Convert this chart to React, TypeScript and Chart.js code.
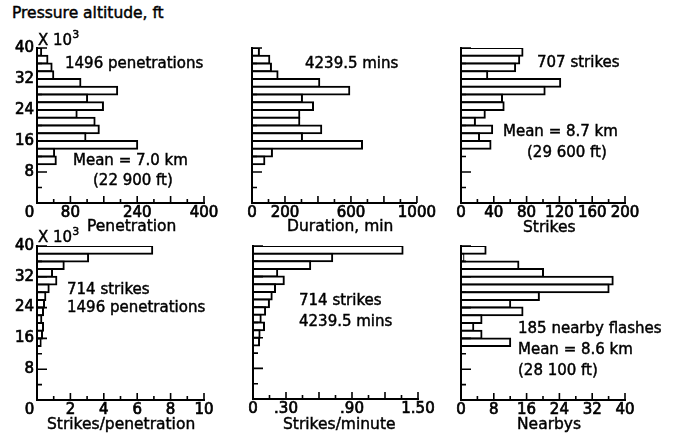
import React, { useEffect, useRef } from 'react';
import { Chart, registerables } from 'chart.js';

Chart.register(...registerables);

// ---------- data ----------
// altitude bin centres (x 10^3 ft), 2000 ft bins from 40 000 ft down
const altitudeBins15 = [39, 37, 35, 33, 31, 29, 27, 25, 23, 21, 19, 17, 15, 13, 11];
const altitudeBins13 = [39, 37, 35, 33, 31, 29, 27, 25, 23, 21, 19, 17, 15];
const altitudeTickLabels = [8, 16, 24, 32, 40];

const penetrations = [10, 25, 35, 39, 104, 192, 120, 158, 95, 138, 148, 116, 240, 41, 45];
const durationMin = [42, 105, 115, 155, 408, 590, 303, 370, 287, 287, 420, 303, 667, 121, 75];
const strikes = [75, 71, 66, 32, 121, 102, 50, 52, 29, 17, 38, 22, 36];
const strikesPerPenetration = [6.9, 3.06, 1.6, 0.9, 1.16, 0.7, 0.5, 0.42, 0.36, 0.26, 0.36, 0.3, 0.22];
const strikesPerMinute = [1.36, 0.72, 0.52, 0.22, 0.28, 0.2, 0.17, 0.145, 0.11, 0.07, 0.1, 0.06, 0.055];
const nearbys = [6, 0.6, 14, 20, 37, 36, 19, 12, 15, 5, 3, 5, 12];

const penetrationTickValues = [0, 80, 240, 400];
const penetrationTickText = ['0\u2003', '80', '240', '400'];
const durationTickValues = [0, 200, 600, 1000];
const durationTickText = ['0', '200', '600', '1000'];
const strikesTickValues = [0, 40, 80, 120, 160, 200];
const strikesTickText = ['0', '40', '80', '120', '160', '200'];
const perPenTickValues = [0, 2, 4, 6, 8, 10];
const perPenTickText = ['0\u2003', '2', '4', '6', '8', '10'];
const perMinTickValues = [0, 0.3, 0.9, 1.5];
const perMinTickText = ['0', '.30', '.90', '1.50'];
const nearbyTickValues = [0, 8, 16, 24, 32, 40];
const nearbyTickText = ['0', '8', '16', '24', '32', '40'];

// ---------- layout ----------
const FONT = "'DejaVu Sans', sans-serif";
const LEFT_W = 40;
const PAD_T = 12;
const PAD_R = 22;
const BOTTOM_H = 26;
const STROKE = '0.45px #000';

type Area = { left: number; top: number; right: number; bottom: number };
type PanelCfg = {
  bins: number[];
  values: number[];
  xMax: number;
  xStep: number;
  xMajor: number;
  tickValues: number[];
  tickText: string[];
  showY: boolean;
  area: Area;
};

const panels: PanelCfg[] = [
  { bins: altitudeBins15, values: penetrations, xMax: 400, xStep: 40, xMajor: 80, tickValues: penetrationTickValues, tickText: penetrationTickText, showY: true, area: { left: 37, top: 48, right: 204, bottom: 203 } },
  { bins: altitudeBins15, values: durationMin, xMax: 1000, xStep: 100, xMajor: 200, tickValues: durationTickValues, tickText: durationTickText, showY: false, area: { left: 252, top: 48, right: 417, bottom: 203 } },
  { bins: altitudeBins13, values: strikes, xMax: 200, xStep: 20, xMajor: 40, tickValues: strikesTickValues, tickText: strikesTickText, showY: false, area: { left: 461, top: 48, right: 625, bottom: 203 } },
  { bins: altitudeBins13, values: strikesPerPenetration, xMax: 10, xStep: 1, xMajor: 2, tickValues: perPenTickValues, tickText: perPenTickText, showY: true, area: { left: 37, top: 246, right: 204, bottom: 400 } },
  { bins: altitudeBins13, values: strikesPerMinute, xMax: 1.5, xStep: 0.15, xMajor: 0.3, tickValues: perMinTickValues, tickText: perMinTickText, showY: false, area: { left: 253, top: 246, right: 418, bottom: 399 } },
  { bins: altitudeBins13, values: nearbys, xMax: 40, xStep: 4, xMajor: 8, tickValues: nearbyTickValues, tickText: nearbyTickText, showY: false, area: { left: 461, top: 246, right: 625, bottom: 400 } },
];

type Note = { text: string; left: number; top: number; size?: number };
const notes: Note[] = [
  { text: 'Pressure altitude, ft', left: 12, top: 6, size: 15.5 },
  { text: '1496 penetrations', left: 65, top: 56 },
  { text: 'Mean = 7.0 km', left: 73, top: 153 },
  { text: '(22 900 ft)', left: 93, top: 173 },
  { text: '4239.5 mins', left: 305, top: 56 },
  { text: '707 strikes', left: 537, top: 55 },
  { text: 'Mean = 8.7 km', left: 503, top: 124 },
  { text: '(29 600 ft)', left: 527, top: 145 },
  { text: '714 strikes', left: 67, top: 282 },
  { text: '1496 penetrations', left: 67, top: 300 },
  { text: '714 strikes', left: 299, top: 293 },
  { text: '4239.5 mins', left: 299, top: 314 },
  { text: '185 nearby flashes', left: 518, top: 321 },
  { text: 'Mean = 8.6 km', left: 518, top: 342 },
  { text: '(28 100 ft)', left: 518, top: 363 },
  { text: 'Penetration', left: 87, top: 219, size: 15.5 },
  { text: 'Duration, min', left: 287, top: 219, size: 15.5 },
  { text: 'Strikes', left: 523, top: 220, size: 15.5 },
  { text: 'Strikes/penetration', left: 47, top: 417, size: 15.5 },
  { text: 'Strikes/minute', left: 283, top: 417, size: 15.5 },
  { text: 'Nearbys', left: 517, top: 417, size: 15.5 },
];
const exponentNotes = [
  { left: 38, top: 33 },
  { left: 38, top: 230 },
];

const isMultiple = (v: number, step: number) => {
  const r = v / step;
  return Math.abs(r - Math.round(r)) < 1e-6;
};

const innerTicks = {
  id: 'innerTicks',
  afterDraw(chart: any, _args: any, opts: any) {
    const { ctx, chartArea } = chart;
    const xs = chart.scales.x;
    const ys = chart.scales.y;
    ctx.save();
    ctx.strokeStyle = '#000';
    ctx.lineWidth = 1.6;
    ctx.beginPath();
    for (const t of xs.ticks) {
      if (Math.abs(t.value) < 1e-9) continue;
      const px = xs.getPixelForValue(t.value);
      const len = isMultiple(t.value, opts.xMajor) ? 7 : 4;
      ctx.moveTo(px, chartArea.bottom);
      ctx.lineTo(px, chartArea.bottom - len);
    }
    for (const t of ys.ticks) {
      if (Math.abs(t.value) < 1e-9) continue;
      const py = ys.getPixelForValue(t.value);
      const len = isMultiple(t.value, 8) ? 10 : 5;
      ctx.moveTo(chartArea.left, py);
      ctx.lineTo(chartArea.left + len, py);
    }
    ctx.stroke();
    ctx.restore();
  },
};

function Panel({ cfg }: { cfg: PanelCfg }) {
  const ref = useRef<HTMLCanvasElement | null>(null);
  const W = cfg.area.right - cfg.area.left + LEFT_W + PAD_R;
  const H = cfg.area.bottom - cfg.area.top + PAD_T + BOTTOM_H;

  useEffect(() => {
    if (!ref.current) return;
    const tickFont = { family: FONT, size: 15, lineHeight: 1 };
    const chart = new Chart(ref.current, {
      type: 'bar',
      data: {
        datasets: [
          {
            data: cfg.bins.map((b, i) => ({ x: cfg.values[i], y: b })),
            backgroundColor: '#fff',
            borderColor: '#000',
            borderWidth: 2,
            borderSkipped: 'start',
            inflateAmount: 1,
            barPercentage: 1,
            categoryPercentage: 1,
          } as any,
        ],
      },
      options: {
        indexAxis: 'y',
        responsive: false,
        animation: false,
        devicePixelRatio: 1,
        events: [],
        layout: { padding: { left: 0, top: PAD_T, right: PAD_R, bottom: 0 } },
        plugins: {
          legend: { display: false },
          tooltip: { enabled: false },
          innerTicks: { xMajor: cfg.xMajor },
        } as any,
        scales: {
          x: {
            type: 'linear',
            position: 'bottom',
            min: 0,
            max: cfg.xMax,
            grid: { display: false, drawTicks: false },
            border: { display: true, color: '#000', width: 2, z: 1 },
            ticks: {
              stepSize: cfg.xStep,
              autoSkip: false,
              maxRotation: 0,
              minRotation: 0,
              padding: 3,
              color: '#000',
              textStrokeColor: '#000',
              textStrokeWidth: 0.7,
              font: tickFont,
              callback: (v: any) => {
                const i = cfg.tickValues.findIndex((t) => Math.abs(t - Number(v)) < 1e-6);
                return i >= 0 ? cfg.tickText[i] : '';
              },
            },
            afterFit: (s: any) => {
              s.height = BOTTOM_H;
            },
          },
          y: {
            type: 'linear',
            position: 'left',
            min: 0,
            max: 40,
            offset: false,
            grid: { display: false, drawTicks: false, offset: false },
            border: { display: true, color: '#000', width: 2, z: 1 },
            ticks: {
              stepSize: 4,
              autoSkip: false,
              padding: 3,
              color: '#000',
              textStrokeColor: '#000',
              textStrokeWidth: 0.7,
              font: tickFont,
              callback: (v: any) =>
                cfg.showY && altitudeTickLabels.includes(Number(v)) ? String(v) : '',
            },
            afterFit: (s: any) => {
              s.width = LEFT_W;
            },
          },
        },
      } as any,
      plugins: [innerTicks as any],
    });
    return () => chart.destroy();
  }, [cfg]);

  return (
    <canvas
      ref={ref}
      width={W}
      height={H}
      style={{
        position: 'absolute',
        left: cfg.area.left - LEFT_W,
        top: cfg.area.top - PAD_T,
        width: W,
        height: H,
      }}
    />
  );
}

export default function App() {
  return (
    <div
      style={{
        position: 'absolute',
        left: 0,
        top: 0,
        width: 684,
        height: 441,
        background: '#fff',
        overflow: 'hidden',
        fontFamily: FONT,
        color: '#000',
      }}
    >
      {panels.map((p, i) => (
        <Panel key={i} cfg={p} />
      ))}
      {notes.map((n, i) => (
        <div
          key={i}
          style={{
            position: 'absolute',
            left: n.left,
            top: n.top,
            fontSize: n.size ?? 15,
            lineHeight: 1,
            whiteSpace: 'nowrap',
            WebkitTextStroke: STROKE,
          }}
        >
          {n.text}
        </div>
      ))}
      {exponentNotes.map((n, i) => (
        <div
          key={'e' + i}
          style={{
            position: 'absolute',
            left: n.left,
            top: n.top,
            fontSize: 15,
            lineHeight: 1,
            whiteSpace: 'nowrap',
            WebkitTextStroke: STROKE,
          }}
        >
          X 10
          <span style={{ fontSize: 11, position: 'relative', top: -7 }}>3</span>
        </div>
      ))}
    </div>
  );
}
